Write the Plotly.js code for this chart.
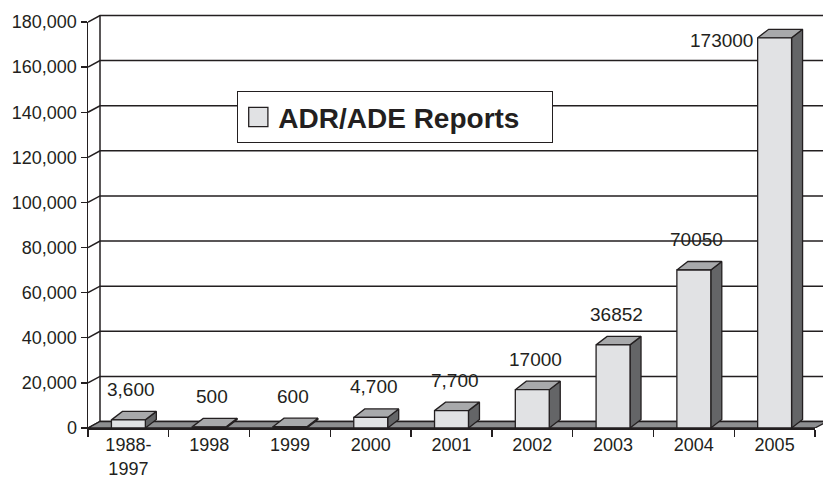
<!DOCTYPE html>
<html>
<head>
<meta charset="utf-8">
<script src="https://cdn.plot.ly/plotly-3.0.1.min.js"></script>
<style>
  html, body { margin: 0; padding: 0; background: #ffffff; }
  #chart { width: 823px; height: 497px; }
  .legend .legendpoints path { transform: translate(20px, 0px) scale(1.6); vector-effect: non-scaling-stroke; }
</style>
</head>
<body>
<div id="chart"></div>
<script>
// ---- data ----
const categories = ['1988-<br>1997', '1998', '1999', '2000', '2001', '2002', '2003', '2004', '2005'];
const values = [3600, 500, 600, 4700, 7700, 17000, 36852, 70050, 173000];
const valueLabels = ['3,600', '500', '600', '4,700', '7,700', '17000', '36852', '70050', '173000'];
const seriesName = 'ADR/ADE Reports';

// ---- geometry / style ----
const W = 823, H = 497;
const M = {l: 88, r: 0, t: 10, b: 69};
const plotW = W - M.l - M.r;     // 735
const plotH = H - M.t - M.b;     // 418
const axisW = 727;               // front x-axis length (px)
const axisH = 406;               // front y-axis length (px)
const yMax = 180000, yStep = 20000;
const n = categories.length;
const pxX = axisW / n;           // px per category unit
const pxY = axisH / yMax;        // px per value unit
const dxW = 12 / pxX, dyW = 6.5 / pxY;   // wall / floor depth
const dxB = 11 / pxX, dyB = 8.5 / pxY;   // bar depth
const barW = 0.42;
const x0 = -0.5, x1 = n - 0.5;
const xEnd = x0 + plotW / pxX;
const yEnd = plotH / pxY;

const ink = '#231f20';
const font = 'Liberation Sans, Arial, sans-serif';

// back wall grid lines + left wall connectors
const gx = [], gy = [];
for (let v = 0; v <= yMax; v += yStep) {
  gx.push(x0, x0 + dxW, xEnd, null);
  gy.push(v, v + dyW, v + dyW, null);
}
gx.push(x0 + dxW, x0 + dxW, null);
gy.push(dyW, yMax + dyW, null);

// floor
const fx = [x0, x1, x1 + dxW, x0 + dxW, x0];
const fy = [0, 0, dyW, dyW, 0];

// side & top faces of bars
const sx = [], sy = [], tx = [], ty = [];
values.forEach((v, i) => {
  const l = i - barW / 2, r = i + barW / 2;
  sx.push(r, r + dxB, r + dxB, r, r, null);
  sy.push(0, dyB, v + dyB, v, 0, null);
  tx.push(l, r, r + dxB, l + dxB, l, null);
  ty.push(v, v, v + dyB, v + dyB, v, null);
});

const traces = [
  {type: 'scatter', mode: 'lines', x: gx, y: gy, xaxis: 'x', yaxis: 'y',
   line: {color: ink, width: 1.5}, showlegend: false, hoverinfo: 'skip'},
  {type: 'scatter', mode: 'lines', x: fx, y: fy, xaxis: 'x', yaxis: 'y', fill: 'toself',
   fillcolor: '#8d8e90', line: {color: ink, width: 1.3}, showlegend: false, hoverinfo: 'skip'},
  {type: 'scatter', mode: 'lines', x: sx, y: sy, xaxis: 'x', yaxis: 'y', fill: 'toself',
   fillcolor: '#646567', line: {color: ink, width: 1.3}, showlegend: false, hoverinfo: 'skip'},
  {type: 'scatter', mode: 'lines', x: tx, y: ty, xaxis: 'x', yaxis: 'y', fill: 'toself',
   fillcolor: '#a8a9ab', line: {color: ink, width: 1.3}, showlegend: false, hoverinfo: 'skip'},
  {type: 'bar', x: categories, y: values, xaxis: 'x2', yaxis: 'y2', name: seriesName,
   width: barW, marker: {color: '#e1e2e4', line: {color: ink, width: 1.3}}, showlegend: true}
];

const annotations = values.map((v, i) => {
  const nearTop = v > 0.8 * yMax;
  return nearTop ? {
    xref: 'x', yref: 'y', x: i - barW / 2, y: v, text: valueLabels[i], showarrow: false,
    xanchor: 'right', yanchor: 'middle', xshift: -3, yshift: -3,
    font: {family: font, size: 19, color: ink}
  } : {
    xref: 'x', yref: 'y', x: i, y: v, text: valueLabels[i], showarrow: false,
    xanchor: 'center', yanchor: 'bottom', xshift: 3, yshift: 18,
    font: {family: font, size: 19, color: ink}
  };
});

const layout = {
  width: W, height: H,
  margin: M,
  paper_bgcolor: '#ffffff', plot_bgcolor: 'rgba(0,0,0,0)',
  font: {family: font, size: 18, color: ink},
  showlegend: true,
  legend: {
    x: (237 - M.l) / plotW, y: (H - M.b - 91) / plotH, xanchor: 'left', yanchor: 'top',
    orientation: 'h', entrywidth: 268,
    bgcolor: '#ffffff', bordercolor: ink, borderwidth: 1.3,
    font: {family: font, size: 28, color: ink, weight: 'bold'}
  },
  xaxis: {domain: [0, 1], range: [x0, xEnd], visible: false, fixedrange: true, anchor: 'y'},
  yaxis: {domain: [0, 1], range: [0, yEnd], visible: false, fixedrange: true, anchor: 'x'},
  xaxis2: {
    domain: [0, axisW / plotW], anchor: 'y2', type: 'category', categoryarray: categories,
    range: [x0, x1], showgrid: false, zeroline: false,
    showline: true, linecolor: ink, linewidth: 1.5,
    ticks: 'outside', tickson: 'boundaries', ticklen: 7, tickwidth: 1.3, tickcolor: ink,
    tickfont: {family: font, size: 18, color: ink}
  },
  yaxis2: {
    domain: [0, axisH / plotH], anchor: 'x2', range: [0, yMax], dtick: yStep, tick0: 0,
    tickformat: ',d', showgrid: false, zeroline: false,
    showline: true, linecolor: ink, linewidth: 1.5,
    ticks: 'outside', ticklen: 6, tickwidth: 1.3, tickcolor: ink,
    tickfont: {family: font, size: 18, color: ink}
  },
  annotations: annotations
};

Plotly.newPlot('chart', traces, layout, {displayModeBar: false, staticPlot: true});
</script>
</body>
</html>
